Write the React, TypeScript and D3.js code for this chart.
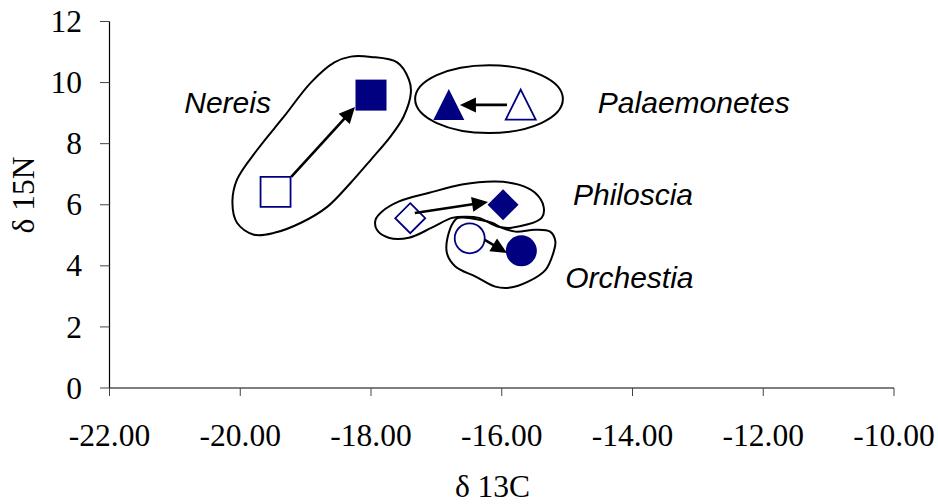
import React from "react";
import * as d3 from "d3";

// ---------- data ----------
const xTicks = [-22, -20, -18, -16, -14, -12, -10];
const yTicks = [0, 2, 4, 6, 8, 10, 12];
const xTitle = "δ 13C";
const yTitle = "δ 15N";

const species = ["Nereis", "Palaemonetes", "Philoscia", "Orchestia"];
const shapes = ["square", "triangle", "diamond", "circle"];
// open (before) and filled (after) markers
const beforeX = [-19.46, -15.71, -17.4, -16.49];
const beforeY = [6.42, 9.28, 5.56, 4.9];
const afterX = [-18.0, -16.81, -15.98, -15.7];
const afterY = [9.59, 9.28, 6.0, 4.49];
// arrows
const arrowFromX = [-19.22, -15.92, -17.33, -16.26];
const arrowFromY = [6.91, 9.27, 5.73, 4.85];
const arrowToX = [-18.245, -16.64, -16.21, -15.92];
const arrowToY = [9.2, 9.27, 6.09, 4.42];
// labels (anchor point in data units)
const labelX = [-19.53, -14.53, -14.91, -15.03];
const labelY = [9.0, 9.0, 5.99, 3.27];
const labelAnchor = ["end", "start", "start", "start"];

// enclosing outlines (data units)
const nereisOutline: [number, number][] = [
  [-18.0, 10.84], [-17.6, 10.66], [-17.42, 10.1], [-17.39, 9.67], [-17.5, 8.89],
  [-17.7, 8.24], [-18.0, 7.48], [-18.31, 6.72], [-18.67, 5.93], [-19.07, 5.41],
  [-19.48, 5.08], [-19.79, 5.02], [-20.05, 5.41], [-20.12, 6.07], [-20.05, 6.82],
  [-19.74, 7.8], [-19.33, 8.89], [-18.92, 10.0], [-18.56, 10.66], [-18.31, 10.85],
];
const palaemonetesEllipse = { cx: -16.195, cy: 9.46, rx: 1.13, ry: 1.11 };
const philosciaOutline: [number, number][] = [
  [-17.93, 5.51], [-17.83, 5.78], [-17.57, 6.11], [-17.11, 6.39], [-16.61, 6.66],
  [-16.1, 6.76], [-15.74, 6.66], [-15.49, 6.39], [-15.36, 5.94], [-15.39, 5.57],
  [-15.85, 5.25], [-16.05, 5.28], [-16.35, 5.57], [-16.55, 5.61], [-16.76, 5.57],
  [-17.07, 5.25], [-17.42, 4.92], [-17.73, 4.92], [-17.91, 5.18],
];
const orchestiaOutline: [number, number][] = [
  [-16.71, 5.51], [-16.81, 5.08], [-16.84, 4.43], [-16.71, 3.98], [-16.4, 3.65],
  [-16.1, 3.32], [-15.89, 3.28], [-15.59, 3.49], [-15.33, 3.87], [-15.21, 4.43],
  [-15.18, 4.8], [-15.26, 5.12], [-15.49, 5.18], [-15.79, 5.12], [-16.0, 5.25],
  [-16.15, 5.41], [-16.35, 5.51], [-16.5, 5.57], [-16.66, 5.57],
];

// ---------- layout ----------
const W = 938;
const H = 504;
const NAVY = "#000080";
const SERIF = "'Liberation Serif', 'Times New Roman', serif";
const SANS = "'Liberation Sans', Arial, sans-serif";

const x = d3.scaleLinear().domain([-22, -10]).range([109.5, 894]);
const y = d3.scaleLinear().domain([0, 12]).range([388, 21.5]);

function markerPath(shape: string, cx: number, cy: number, s: number): string {
  const h = s / 2;
  if (shape === "square") {
    return `M${cx - h},${cy - h}H${cx + h}V${cy + h}H${cx - h}Z`;
  }
  if (shape === "diamond") {
    return `M${cx},${cy - h}L${cx + h},${cy}L${cx},${cy + h}L${cx - h},${cy}Z`;
  }
  if (shape === "triangle") {
    return `M${cx},${cy - h}L${cx + h},${cy + h}L${cx - h},${cy + h}Z`;
  }
  const p = d3.path();
  p.arc(cx, cy, h, 0, Math.PI * 2);
  p.closePath();
  return p.toString();
}

function Arrow({ x1, y1, x2, y2 }: { x1: number; y1: number; x2: number; y2: number }) {
  const dx = x2 - x1;
  const dy = y2 - y1;
  const len = Math.hypot(dx, dy);
  const ux = dx / len;
  const uy = dy / len;
  const hl = 16;
  const hw = 7.5;
  const bx = x2 - ux * hl;
  const by = y2 - uy * hl;
  const head = `M${x2},${y2}L${bx - uy * hw},${by + ux * hw}L${bx + uy * hw},${by - ux * hw}Z`;
  return (
    <g>
      <line x1={x1} y1={y1} x2={bx + ux * 2} y2={by + uy * 2} stroke="#000" strokeWidth={2.6} />
      <path d={head} fill="#000" />
    </g>
  );
}

export default function App() {
  const outlineLine = d3
    .line<[number, number]>()
    .x((d) => x(d[0]))
    .y((d) => y(d[1]))
    .curve(d3.curveCatmullRomClosed.alpha(0.5));

  const pe = palaemonetesEllipse;
  const [x0, x1] = x.range();
  const [y0, y1] = y.range();

  return (
    <svg
      width={W}
      height={H}
      style={{ position: "fixed", left: 0, top: 0, background: "#fff", display: "block" }}
    >
      <rect width={W} height={H} fill="#fff" />

      {/* axes */}
      <line x1={x0} y1={y0} x2={x1} y2={y0} stroke="#000" strokeWidth={1.2} />
      <line x1={x0} y1={y0} x2={x0} y2={y1} stroke="#000" strokeWidth={1.2} />
      {yTicks.map((t) => (
        <g key={"y" + t}>
          <line x1={x0 - 9.5} x2={x0} y1={y(t)} y2={y(t)} stroke="#444" strokeWidth={1} />
          <text
            x={82}
            y={y(t) + 10.6}
            textAnchor="end"
            fontFamily={SERIF}
            fontSize={31.5}
            fill="#000"
          >
            {t}
          </text>
        </g>
      ))}
      {xTicks.map((t) => (
        <g key={"x" + t}>
          <line x1={x(t)} x2={x(t)} y1={y0} y2={y0 + 8} stroke="#444" strokeWidth={1} />
          <text
            x={x(t)}
            y={445.7}
            textAnchor="middle"
            fontFamily={SERIF}
            fontSize={31.5}
            fill="#000"
          >
            {t.toFixed(2)}
          </text>
        </g>
      ))}
      <text x={492.5} y={497} textAnchor="middle" fontFamily={SERIF} fontSize={31.5} fill="#000">
        {xTitle}
      </text>
      <text
        transform="translate(33.5,195) rotate(-90)"
        textAnchor="middle"
        fontFamily={SERIF}
        fontSize={31.5}
        fill="#000"
      >
        {yTitle}
      </text>

      {/* outlines */}
      <g fill="none" stroke="#000" strokeWidth={2}>
        <path d={outlineLine(nereisOutline) || ""} />
        <ellipse
          cx={x(pe.cx)}
          cy={y(pe.cy)}
          rx={x(pe.cx + pe.rx) - x(pe.cx)}
          ry={y(pe.cy) - y(pe.cy + pe.ry)}
        />
        <path d={outlineLine(philosciaOutline) || ""} />
        <path d={outlineLine(orchestiaOutline) || ""} />
      </g>

      {/* markers */}
      {species.map((s, i) => (
        <g key={s}>
          <path
            d={markerPath(shapes[i], x(beforeX[i]), y(beforeY[i]), 30)}
            fill="#fff"
            stroke={NAVY}
            strokeWidth={1.8}
          />
          <path d={markerPath(shapes[i], x(afterX[i]), y(afterY[i]), 31)} fill={NAVY} />
        </g>
      ))}

      {/* arrows */}
      {species.map((s, i) => (
        <Arrow
          key={"a" + s}
          x1={x(arrowFromX[i])}
          y1={y(arrowFromY[i])}
          x2={x(arrowToX[i])}
          y2={y(arrowToY[i])}
        />
      ))}

      {/* labels */}
      {species.map((s, i) => (
        <text
          key={"l" + s}
          x={x(labelX[i])}
          y={y(labelY[i])}
          textAnchor={labelAnchor[i] as any}
          fontFamily={SANS}
          fontStyle="italic"
          fontSize={30}
          fill="#000"
        >
          {s}
        </text>
      ))}
    </svg>
  );
}
